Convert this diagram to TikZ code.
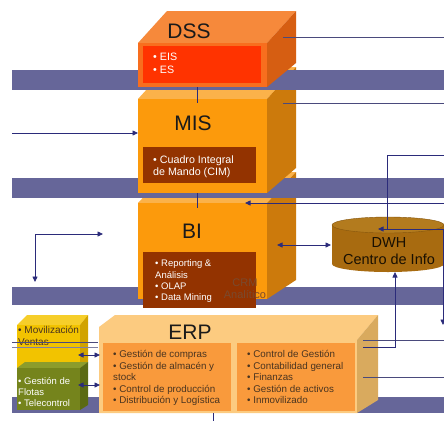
\documentclass[tikz,border=0pt]{standalone}
\usepackage{fontspec}
\setmainfont{Liberation Sans}
\usetikzlibrary{arrows.meta}

\definecolor{bandc}{HTML}{666699}
\definecolor{dssTop}{HTML}{F6893B}
\definecolor{dssFront}{HTML}{F86E1E}
\definecolor{dssRight}{HTML}{D65E12}
\definecolor{dssRed}{HTML}{FF3300}
\definecolor{misTop}{HTML}{FBB24A}
\definecolor{misFront}{HTML}{FC9A0C}
\definecolor{misRight}{HTML}{CC7A0C}
\definecolor{innerBrown}{HTML}{933300}
\definecolor{erpFace}{HTML}{FCCB80}
\definecolor{erpRight}{HTML}{D9AA5E}
\definecolor{erpInner}{HTML}{F99A3C}
\definecolor{yFront}{HTML}{F2C300}
\definecolor{yTop}{HTML}{F6CE2A}
\definecolor{yRight}{HTML}{D1A300}
\definecolor{gFront}{HTML}{75841C}
\definecolor{gTop}{HTML}{8C9C2C}
\definecolor{gRight}{HTML}{5B6A14}
\definecolor{dwhBody}{HTML}{A86B10}
\definecolor{dwhTop}{HTML}{B37B1E}
\definecolor{wirec}{HTML}{2B2B7A}
\definecolor{linec}{HTML}{4A4A7C}
\definecolor{crmText}{HTML}{7A4A2E}
\definecolor{erpText}{HTML}{4A3420}
\definecolor{ttlText}{HTML}{1A1A1A}

\tikzset{
  tipA/.tip={Triangle[length=5.5pt,width=5pt]},
  wire/.style={draw=wirec, line width=0.8pt},
  plainline/.style={draw=linec, line width=0.7pt},
  arr/.style={wire, -tipA},
  arrs/.style={wire, tipA-tipA},
  ttl/.style={font=\fontsize{21}{24}\selectfont, text=ttlText, inner sep=0pt, anchor=base},
  wtxt/.style={text=white, inner sep=0pt, anchor=north west, align=left},
  dtxt/.style={text=erpText, inner sep=0pt, anchor=north west, align=left},
}

\begin{document}
\begin{tikzpicture}[x=1pt,y=-1pt]
\useasboundingbox (0,0) rectangle (444,421);
\clip (0,0) rectangle (444,421);
\fill[white] (0,0) rectangle (444,421);

% lower horizontal bands
\fill[bandc] (12,287) rectangle (444,305);
\fill[bandc] (12,397) rectangle (444,413);

% BI block
\fill[misTop] (138,203) -- (167,172) -- (296,172) -- (267,203) -- cycle;
\fill[misRight] (267,203) -- (296,172) -- (296,280) -- (267,299) -- cycle;
\fill[misFront] (138,203) rectangle (267,299);
\fill[innerBrown] (143,252) rectangle (256,308);

% middle band
\fill[bandc] (12,178) rectangle (444,198);

% MIS block
\fill[misTop] (138,99) -- (167,67) -- (296,67) -- (267,99) -- cycle;
\fill[misRight] (267,99) -- (296,67) -- (296,168) -- (267,193) -- cycle;
\fill[misFront] (138,99) rectangle (267,193);
\fill[innerBrown] (143,147) rectangle (256,183);

% upper band
\fill[bandc] (12,70) rectangle (444,90);

% DSS block
\fill[dssTop] (138,43) -- (167,11) -- (296,11) -- (267,43) -- cycle;
\fill[dssRight] (267,43) -- (296,11) -- (296,63) -- (267,87) -- cycle;
\fill[dssFront] (138,43) rectangle (267,87);
\fill[dssRed] (143,46) rectangle (261,83);

% DWH cylinder
\fill[dwhBody] (332,225) -- (332,264)
  arc[start angle=180,end angle=360,x radius=56pt,y radius=8pt] -- (444,225) -- cycle;
\fill[dwhTop, draw=dwhBody!80!black, line width=0.4pt] (388,225) ellipse[x radius=56pt,y radius=8pt];

% side blocks
\fill[yTop] (17,325) -- (27,315) -- (88,315) -- (80,325) -- cycle;
\fill[yRight] (80,325) -- (88,315) -- (88,362) -- (80,368) -- cycle;
\fill[yFront] (17,325) rectangle (80,368);
\fill[gTop] (17,368) -- (25,362) -- (88,362) -- (80,368) -- cycle;
\fill[gRight] (80,368) -- (88,362) -- (88,405) -- (80,410) -- cycle;
\fill[gFront] (17,368) rectangle (80,410);

% ERP block
\fill[erpFace] (99,413) -- (99,327) -- (115,315) -- (378,315) -- (357,340) -- (357,413) -- cycle;
\fill[erpRight] (357,340) -- (378,315) -- (378,400) -- (357,413) -- cycle;
\fill[erpInner] (103,343) rectangle (231,411);
\fill[erpInner] (237,343) rectangle (355,411);

% texts
\node[ttl] (dss) at (189,38) {DSS};
\node[wtxt, font=\fontsize{10.7}{13}\selectfont] (dssitems) at (153,53.3) {• EIS\\• ES};
\node[ttl] (mis) at (193,130) {MIS};
\node[wtxt, font=\fontsize{10.7}{12.5}\selectfont] (misitems) at (153,155.2) {• Cuadro Integral\\de Mando (CIM)};
\node[ttl] (bi) at (192,238) {BI};
\node[wtxt, font=\fontsize{9.5}{11.2}\selectfont] (biitems) at (155,259.8) {• Reporting \&\\Análisis\\• OLAP\\• Data Mining};
\node[text=crmText, inner sep=0pt, anchor=north, align=center, font=\fontsize{11}{11.5}\selectfont] (crm) at (245,278.8) {CRM\\Analítico};
\node[ttl] (erp) at (190,339) {ERP};
\node[dtxt, font=\fontsize{9.8}{11.5}\selectfont] (erpleft) at (113,350.2)
  {• Gestión de compras\\• Gestión de almacén y\\stock\\• Control de producción\\• Distribución y Logística};
\node[dtxt, font=\fontsize{9.8}{11.5}\selectfont] (erpright) at (247,350.2)
  {• Control de Gestión\\• Contabilidad general\\• Finanzas\\• Gestión de activos\\• Inmovilizado};
\node[dtxt, font=\fontsize{10}{12}\selectfont] (movil) at (18,325.7) {• Movilización\\Ventas};
\node[wtxt, font=\fontsize{9.5}{11.3}\selectfont] (flotas) at (18,377.1) {• Gestión de\\Flotas\\• Telecontrol};
\node[text=black!85!dwhBody, inner sep=0pt, anchor=north, align=center, font=\fontsize{14.5}{17.7}\selectfont] (dwh) at (389,236.9) {DWH\\Centro de Info};

% connector end points
\coordinate (dssR) at (283,37);   \coordinate (edgeA) at (444,37);
\coordinate (misR) at (283,103);  \coordinate (edgeB) at (444,103);
\coordinate (dssB) at (197,87);   \coordinate (misT) at (197,103);
\coordinate (misB) at (197,193);  \coordinate (biT) at (197,208);
\coordinate (leftA) at (12,133);  \coordinate (misL) at (138,133);
\coordinate (elbowDown) at (35,282); \coordinate (elbowRight) at (103,234);
\coordinate (edgeC) at (444,203); \coordinate (biTop) at (245,203);
\coordinate (biR) at (277,245);   \coordinate (dwhL) at (331,245);
\coordinate (edgeD) at (444,155); \coordinate (dwhIn) at (387,229);
\coordinate (dwhTip) at (378,229); \coordinate (downTip) at (443,325);
\coordinate (erpR1) at (363,340); \coordinate (edgeE) at (444,340);
\coordinate (erpR2) at (363,347); \coordinate (dwhB) at (395,272);
\coordinate (erpR3) at (363,377); \coordinate (edgeF) at (444,377);
\coordinate (leftB) at (12,342);  \coordinate (erpLB) at (98,342);
\coordinate (leftC) at (12,347);  \coordinate (erpLC) at (98,347);
\coordinate (yR) at (78,355);     \coordinate (erpY) at (100,355);
\coordinate (gR) at (78,385);     \coordinate (erpG) at (100,385);
\coordinate (erpBot) at (213,413); \coordinate (bottom) at (213,421);

% connectors
\draw[plainline] (dssR) -- (edgeA);
\draw[plainline] (misR) -- (edgeB);
\draw[plainline, draw=wirec] (dssB) -- (misT);
\draw[plainline, draw=wirec] (misB) -- (biT);
\draw[arr] (leftA) -- (misL);
\draw[arrs] (elbowDown) |- (elbowRight);
\draw[arr] (edgeC) -- (biTop);
\draw[arrs] (biR) -- (dwhL);
\draw[wire] (edgeD) -| (dwhIn);
\draw[arrs] (dwhTip) -| (downTip);
\draw[plainline] (erpR1) -- (edgeE);
\draw[arr] (erpR2) -| (dwhB);
\draw[plainline] (erpR3) -- (edgeF);
\draw[plainline] (leftB) -- (erpLB);
\draw[plainline, draw=linec!70] (leftC) -- (erpLC);
\draw[arrs] (yR) -- (erpY);
\draw[arrs] (gR) -- (erpG);
\draw[plainline, draw=wirec] (erpBot) -- (bottom);
\end{tikzpicture}
\end{document}
